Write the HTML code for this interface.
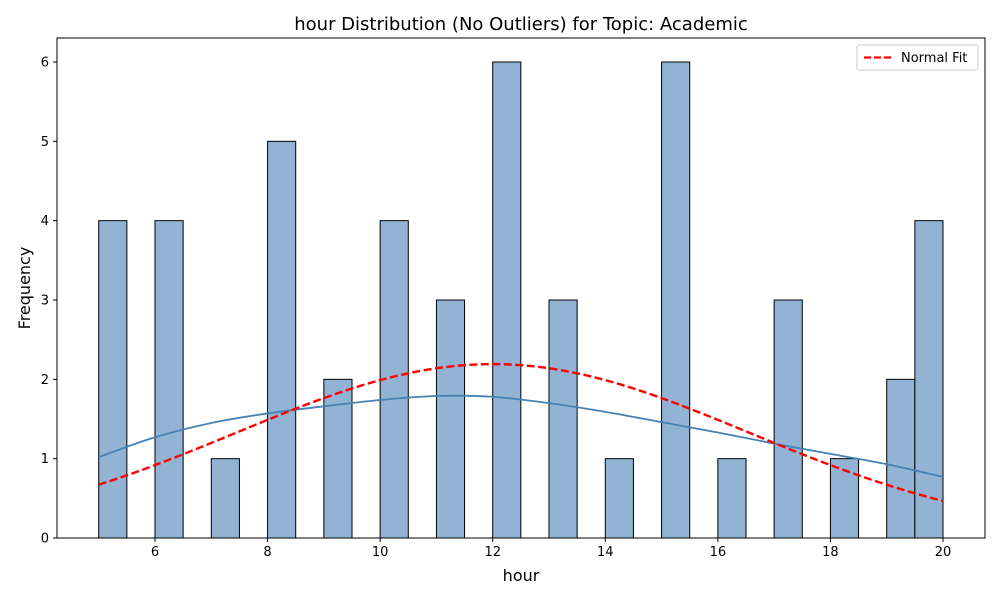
<!DOCTYPE html>
<html><head><meta charset="utf-8"><style>
body{margin:0;background:#fff;font-family:"Liberation Sans","DejaVu Sans",sans-serif}
</style></head><body>
<svg id="chart" width="1000" height="600" xmlns="http://www.w3.org/2000/svg" font-family="DejaVu Sans, Liberation Sans, sans-serif">
<rect width="1000" height="600" fill="#fff"/>
<text x="521" y="30" text-anchor="middle" font-size="18">hour Distribution (No Outliers) for Topic: Academic</text>
<g id="bars"></g><g id="curves"></g><g id="axes"></g>
<text x="521" y="581" text-anchor="middle" font-size="16">hour</text>
<text transform="translate(30,288) rotate(-90)" text-anchor="middle" font-size="16">Frequency</text>
<g>
<rect x="857" y="45" width="121" height="25" fill="#fff" stroke="#ccc" rx="2"/>
<line x1="864" y1="57.5" x2="892" y2="57.5" stroke="red" stroke-width="2.2" stroke-dasharray="7,3"/>
<text x="901" y="62" font-size="13">Normal Fit</text>
</g>
</svg>
<script>
const binStarts=[5,6,7,8,9,10,11,12,13,14,15,16,17,18,19,19.5];
const counts=[4,4,1,5,2,4,3,6,3,1,6,1,3,1,2,4];
const binWidth=0.5;
const kdeX=[5,6,7,8,9,10,11,12,13,14,15,16,17,18,19,20];
const kdeY=[1.02,1.27,1.45,1.57,1.66,1.74,1.79,1.78,1.70,1.59,1.46,1.33,1.19,1.06,0.93,0.77];
const fitMean=12.0, fitSd=4.55, fitN=50;
const xTicks=[6,8,10,12,14,16,18,20];
const yTicks=[0,1,2,3,4,5,6];
const NS="http://www.w3.org/2000/svg";
const L=57,R=985,T=38,B=538;
const X=v=>155+(v-6)*(943-155)/14;
const Y=v=>538-v*(538-62)/6;
function mk(tag,attrs,parent){const e=document.createElementNS(NS,tag);for(const k in attrs)e.setAttribute(k,attrs[k]);parent.appendChild(e);return e;}
const bars=document.getElementById('bars');
binStarts.forEach((s,i)=>{
 const r=mk('rect',{x:X(s),y:Y(counts[i]),width:X(s+binWidth)-X(s),height:Y(0)-Y(counts[i]),fill:'#92b3d3',stroke:'#000','stroke-width':1},bars);
 
 
});
const curves=document.getElementById('curves');
// KDE smooth (catmull-rom)
const pts=kdeX.map((x,i)=>[X(x),Y(kdeY[i])]);
let d='M'+pts[0].join(',');
for(let i=0;i<pts.length-1;i++){
 const p0=pts[Math.max(0,i-1)],p1=pts[i],p2=pts[i+1],p3=pts[Math.min(pts.length-1,i+2)];
 d+=` C${p1[0]+(p2[0]-p0[0])/6},${p1[1]+(p2[1]-p0[1])/6} ${p2[0]-(p3[0]-p1[0])/6},${p2[1]-(p3[1]-p1[1])/6} ${p2[0]},${p2[1]}`;
}
const kde=mk('path',{d:d,fill:'none',stroke:'#4682b4','stroke-width':1.8},curves);


let nd='';
for(let i=0;i<=100;i++){const x=5+15*i/100;const y=fitN*binWidth/(fitSd*Math.sqrt(2*Math.PI))*Math.exp(-0.5*((x-fitMean)/fitSd)**2);nd+=(i?'L':'M')+X(x)+','+Y(y);}
const nf=mk('path',{d:nd,fill:'none',stroke:'red','stroke-width':2.4,'stroke-dasharray':'8,3.5'},curves);


const axes=document.getElementById('axes');
const frame=mk('rect',{x:L,y:T,width:R-L,height:B-T,fill:'none',stroke:'#000','stroke-width':1},axes);


xTicks.forEach(t=>{
 mk('line',{x1:X(t),x2:X(t),y1:B,y2:B+4,stroke:'#000'},axes);
 const tx=mk('text',{x:X(t),y:B+18,'text-anchor':'middle','font-size':13},axes);tx.textContent=t;
 
 
});
yTicks.forEach(t=>{
 mk('line',{x1:L-4,x2:L,y1:Y(t),y2:Y(t),stroke:'#000'},axes);
 const tx=mk('text',{x:L-8,y:Y(t)+4.5,'text-anchor':'end','font-size':13},axes);tx.textContent=t;
 
 
});
</script>
</body></html>
